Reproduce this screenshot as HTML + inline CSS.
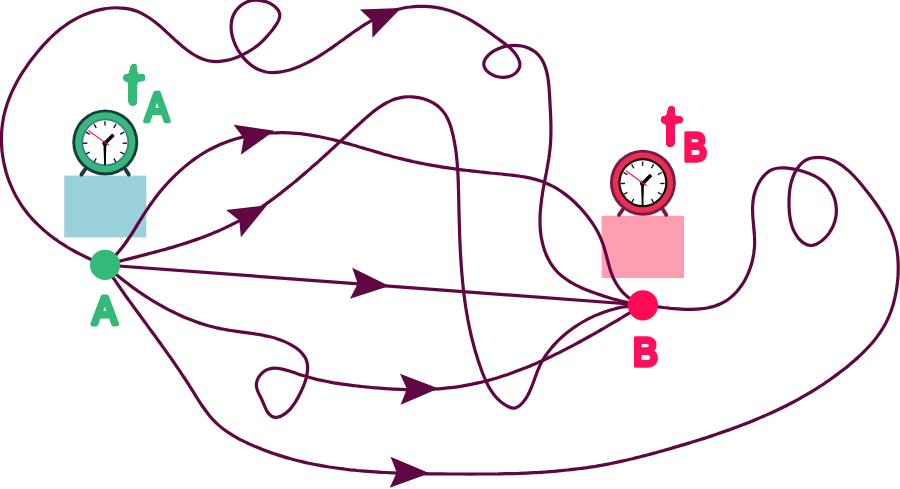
<!DOCTYPE html>
<html><head><meta charset="utf-8"><title>Paths from A to B</title>
<style>
html,body{margin:0;padding:0;background:#fff;}
body{width:900px;height:489px;overflow:hidden;}
svg{display:block;will-change:transform;}
text{font-family:"Liberation Sans",sans-serif;stroke-linejoin:round;stroke-linecap:round;vector-effect:non-scaling-stroke;}
</style></head><body>
<svg width="900" height="489" viewBox="0 0 900 489">
<defs><filter id="rnd" x="-20%" y="-20%" width="140%" height="140%" color-interpolation-filters="sRGB"><feGaussianBlur stdDeviation="1.35"/><feComponentTransfer><feFuncA type="linear" slope="9" intercept="-4"/></feComponentTransfer></filter><clipPath id="ct0"><path d="M120.2,60.9H149.0V86.3H137.87V101.35A5.15,5.15 0 0 1 127.58,101.35V86.3H120.2Z"/></clipPath><clipPath id="ct1"><path d="M657.8,101.9H686.4V127.1H675.40V142.15A5.15,5.15 0 0 1 665.10,142.15V127.1H657.8Z"/></clipPath></defs>
<rect width="900" height="489" fill="#fff"/>
<rect x="64.2" y="175.6" width="82.1" height="61.8" fill="#9ad1da"/>
<rect x="601.6" y="215.8" width="82.4" height="62.2" fill="#ff9db1"/>
<g fill="none" stroke="#5e0742" stroke-width="3.2" stroke-linecap="round" stroke-linejoin="round">
<path d="M105.0,265.0C102.9,264.2 100.7,263.4 98.6,262.5C96.5,261.7 94.3,260.8 92.2,259.9C90.1,259.0 87.9,258.0 85.8,257.0C83.7,256.0 81.6,255.0 79.5,253.9C77.4,252.8 75.3,251.7 73.2,250.5C71.2,249.4 69.1,248.2 67.1,247.0C65.1,245.8 63.1,244.5 61.1,243.2C59.1,241.9 57.2,240.5 55.2,239.2C53.3,237.8 51.4,236.4 49.6,234.9C47.7,233.4 45.9,232.0 44.1,230.4C42.3,228.9 40.6,227.3 38.9,225.7C37.2,224.1 35.5,222.4 33.9,220.7C32.3,219.0 30.8,217.2 29.2,215.5C27.7,213.7 26.3,211.9 24.9,210.0C23.5,208.1 22.1,206.2 20.9,204.3C19.6,202.3 18.4,200.3 17.2,198.3C16.0,196.3 14.9,194.2 13.9,192.1C12.9,190.0 11.9,187.9 11.0,185.7C10.1,183.6 9.2,181.4 8.4,179.2C7.6,177.0 6.9,174.8 6.2,172.5C5.6,170.3 5.0,168.0 4.5,165.7C3.9,163.4 3.5,161.1 3.1,158.8C2.7,156.5 2.4,154.2 2.1,151.9C1.9,149.5 1.7,147.2 1.6,144.9C1.5,142.5 1.4,140.2 1.4,137.9C1.5,135.5 1.6,133.2 1.7,130.9C1.9,128.5 2.2,126.2 2.5,123.9C2.8,121.6 3.2,119.3 3.6,117.0C4.1,114.7 4.7,112.4 5.3,110.2C5.9,107.9 6.6,105.7 7.3,103.5C8.1,101.3 8.9,99.1 9.8,96.9C10.7,94.7 11.6,92.5 12.6,90.4C13.6,88.3 14.7,86.1 15.8,84.0C16.9,81.9 18.0,79.9 19.2,77.8C20.4,75.8 21.7,73.7 23.0,71.7C24.3,69.7 25.6,67.8 27.0,65.8C28.3,63.9 29.7,61.9 31.1,60.1C32.6,58.2 34.0,56.3 35.5,54.5C37.0,52.6 38.5,50.8 40.0,49.0C41.5,47.3 43.0,45.5 44.6,43.8C46.2,42.1 47.8,40.5 49.4,38.8C51.0,37.2 52.7,35.6 54.4,34.1C56.1,32.5 57.8,31.1 59.6,29.6C61.4,28.2 63.2,26.8 65.1,25.5C67.0,24.1 68.9,22.8 70.9,21.6C72.9,20.4 75.0,19.3 77.1,18.2C79.2,17.1 81.3,16.1 83.5,15.1C85.7,14.2 88.0,13.3 90.2,12.5C92.5,11.7 94.8,11.0 97.1,10.4C99.4,9.8 101.8,9.3 104.1,8.9C106.5,8.5 108.8,8.2 111.1,8.0C113.5,7.8 115.8,7.7 118.1,7.8C120.5,7.8 122.8,8.0 125.0,8.3C127.3,8.6 129.5,9.0 131.7,9.6C133.9,10.2 136.1,10.9 138.2,11.8C140.3,12.6 142.3,13.6 144.3,14.8C146.3,15.9 148.3,17.2 150.2,18.5C152.2,19.8 154.1,21.3 155.9,22.8C157.8,24.3 159.6,25.8 161.5,27.4C163.3,29.1 165.1,30.7 166.9,32.4C168.7,34.0 170.5,35.7 172.3,37.3C174.1,39.0 175.9,40.7 177.7,42.3C179.5,43.9 181.3,45.4 183.1,46.9C184.9,48.5 186.8,49.9 188.7,51.2C190.5,52.6 192.4,53.8 194.4,55.0C196.3,56.1 198.2,57.1 200.2,58.0C202.3,58.9 204.3,59.6 206.4,60.2C208.5,60.8 210.6,61.2 212.9,61.4C215.1,61.6 217.3,61.6 219.6,61.4C221.9,61.2 224.3,60.9 226.6,60.4C229.0,59.9 231.3,59.2 233.7,58.4C236.0,57.6 238.3,56.7 240.6,55.7C242.8,54.7 245.1,53.5 247.2,52.3C249.4,51.1 251.4,49.8 253.4,48.5C255.4,47.1 257.3,45.7 259.0,44.2C260.8,42.7 262.4,41.2 264.0,39.6C265.6,38.0 267.2,36.3 268.6,34.6C270.1,32.8 271.6,31.0 273.0,29.1C274.4,27.1 275.9,25.1 277.2,23.0C278.5,20.9 279.5,18.7 279.7,16.6C280.0,14.6 279.5,12.6 278.5,10.7C277.4,8.9 275.8,7.2 273.8,5.7C271.9,4.3 269.6,3.0 267.1,2.1C264.6,1.2 262.0,0.6 259.5,0.3C256.9,0.0 254.5,0.1 252.1,0.5C249.8,0.9 247.6,1.6 245.5,2.6C243.5,3.6 241.6,4.9 239.9,6.3C238.3,7.8 236.8,9.4 235.6,11.2C234.3,13.0 233.4,15.0 232.6,17.1C231.9,19.1 231.5,21.3 231.3,23.5C231.0,25.8 231.1,28.1 231.3,30.4C231.5,32.7 232.0,35.0 232.6,37.4C233.3,39.7 234.1,42.0 235.1,44.3C236.1,46.6 237.3,48.8 238.6,51.0C239.9,53.1 241.3,55.2 242.9,57.1C244.5,59.0 246.2,60.8 248.0,62.5C249.8,64.1 251.7,65.6 253.6,66.9C255.6,68.2 257.6,69.3 259.7,70.1C261.8,70.9 264.0,71.5 266.1,72.0C268.3,72.4 270.6,72.6 272.8,72.6C275.0,72.6 277.3,72.5 279.6,72.2C281.9,71.9 284.2,71.4 286.4,70.8C288.7,70.3 291.0,69.6 293.3,68.8C295.5,68.0 297.7,67.1 299.9,66.2C302.2,65.2 304.3,64.2 306.4,63.1C308.6,62.1 310.6,61.0 312.7,59.8C314.7,58.7 316.8,57.5 318.8,56.3C320.8,55.1 322.7,53.8 324.7,52.5C326.6,51.2 328.5,49.9 330.5,48.6C332.4,47.3 334.3,45.9 336.2,44.6C338.1,43.2 340.0,41.9 341.9,40.5C343.8,39.1 345.7,37.8 347.6,36.4C349.5,35.0 351.4,33.7 353.3,32.3C355.3,30.9 357.2,29.6 359.2,28.3C361.1,27.0 363.1,25.7 365.1,24.4C367.1,23.2 369.1,22.0 371.1,20.8C373.2,19.6 375.2,18.5 377.3,17.4C379.4,16.4 381.5,15.3 383.6,14.4C385.8,13.5 387.9,12.6 390.1,11.8C392.3,11.0 394.5,10.3 396.8,9.6C399.0,9.0 401.3,8.5 403.6,8.0C405.9,7.6 408.2,7.2 410.6,7.0C412.9,6.7 415.3,6.5 417.6,6.4C420.0,6.3 422.3,6.3 424.7,6.4C427.1,6.5 429.4,6.6 431.8,6.9C434.1,7.2 436.4,7.5 438.7,7.9C441.1,8.4 443.3,8.9 445.6,9.5C447.9,10.1 450.1,10.8 452.3,11.5C454.5,12.3 456.6,13.2 458.7,14.1C460.8,15.0 462.9,16.0 465.0,17.1C467.1,18.1 469.1,19.2 471.1,20.4C473.1,21.6 475.1,22.8 477.1,24.1C479.1,25.3 481.1,26.6 483.0,27.9C485.0,29.3 486.9,30.6 488.8,32.0C490.8,33.4 492.7,34.8 494.6,36.2C496.6,37.6 498.5,39.0 500.4,40.4C502.3,41.8 504.3,43.2 506.1,44.7C508.0,46.1 509.8,47.6 511.5,49.3C513.1,50.9 514.7,52.7 516.0,54.6C517.3,56.5 518.6,58.7 519.3,60.9C520.0,63.1 520.1,65.3 519.5,67.3C518.9,69.3 517.7,71.1 516.1,72.6C514.4,74.1 512.4,75.4 510.1,76.2C507.8,77.0 505.2,77.4 502.7,77.4C500.1,77.4 497.5,76.9 495.0,76.0C492.6,75.1 490.3,73.8 488.4,72.3C486.6,70.8 485.1,69.0 484.4,67.1C483.6,65.3 483.6,63.3 484.2,61.4C484.8,59.5 486.1,57.7 487.7,55.9C489.3,54.2 491.4,52.6 493.5,51.2C495.7,49.9 497.9,48.7 500.2,47.9C502.6,47.0 504.9,46.3 507.4,45.9C509.8,45.5 512.2,45.3 514.6,45.3C517.0,45.3 519.4,45.6 521.7,46.0C524.0,46.5 526.2,47.2 528.3,48.0C530.4,48.9 532.3,49.9 534.1,51.2C535.9,52.4 537.5,53.9 538.9,55.5C540.3,57.1 541.5,58.8 542.6,60.8C543.6,62.7 544.5,64.7 545.2,66.9C546.0,69.0 546.6,71.3 547.1,73.6C547.6,76.0 548.0,78.4 548.3,80.8C548.6,83.3 548.9,85.8 549.1,88.3C549.3,90.8 549.4,93.3 549.6,95.8C549.7,98.3 549.9,100.8 550.0,103.2C550.1,105.7 550.2,108.1 550.4,110.5C550.5,112.8 550.6,115.2 550.7,117.5C550.8,119.8 550.8,122.1 550.9,124.4C550.9,126.7 551.0,129.0 550.9,131.3C550.9,133.5 550.9,135.8 550.8,138.1C550.7,140.3 550.6,142.6 550.4,144.8C550.2,147.1 550.0,149.4 549.7,151.6C549.4,153.9 549.1,156.2 548.8,158.5C548.4,160.8 548.0,163.1 547.6,165.4C547.2,167.7 546.8,170.0 546.4,172.3C545.9,174.6 545.5,177.0 545.0,179.3C544.6,181.6 544.2,183.9 543.7,186.3C543.3,188.6 542.9,191.0 542.5,193.3C542.2,195.7 541.8,198.0 541.5,200.4C541.2,202.7 540.9,205.1 540.7,207.4C540.4,209.8 540.3,212.1 540.1,214.5C540.0,216.9 540.0,219.2 540.0,221.6C540.0,224.0 540.1,226.3 540.3,228.7C540.4,231.1 540.7,233.4 541.0,235.8C541.4,238.1 541.8,240.4 542.4,242.7C542.9,245.0 543.5,247.3 544.3,249.5C545.0,251.7 545.8,253.9 546.8,256.0C547.7,258.1 548.8,260.1 549.9,262.1C551.1,264.0 552.4,265.9 553.8,267.7C555.2,269.5 556.7,271.2 558.3,272.8C560.0,274.4 561.7,275.9 563.5,277.3C565.4,278.7 567.3,280.0 569.3,281.3C571.3,282.6 573.4,283.7 575.5,284.9C577.6,286.0 579.8,287.0 582.0,288.0C584.2,289.0 586.5,289.9 588.7,290.8C591.0,291.7 593.3,292.6 595.6,293.3C597.9,294.1 600.2,294.9 602.4,295.6C604.7,296.3 607.0,297.0 609.2,297.7C611.4,298.4 613.6,299.0 615.7,299.6C617.9,300.2 620.0,300.8 622.2,301.4C624.4,301.9 626.5,302.4 628.8,302.9C631.0,303.4 633.3,303.8 635.6,304.1C638.0,304.5 640.4,304.8 643.0,305.0"/>
<path d="M105.0,265.0C106.9,263.5 108.8,261.9 110.5,260.3C112.2,258.7 113.9,257.1 115.5,255.4C117.1,253.7 118.6,251.9 120.1,250.1C121.6,248.3 123.0,246.5 124.3,244.7C125.7,242.8 127.0,240.9 128.3,239.0C129.6,237.1 130.9,235.2 132.1,233.3C133.4,231.3 134.6,229.3 135.8,227.4C137.0,225.4 138.2,223.4 139.4,221.4C140.7,219.5 141.9,217.5 143.1,215.5C144.4,213.5 145.7,211.5 147.0,209.6C148.3,207.6 149.6,205.6 151.0,203.7C152.4,201.8 153.8,199.9 155.2,198.0C156.6,196.1 158.1,194.2 159.6,192.3C161.2,190.5 162.7,188.6 164.3,186.8C165.9,185.0 167.5,183.2 169.1,181.5C170.8,179.7 172.4,178.0 174.1,176.3C175.9,174.6 177.6,173.0 179.4,171.4C181.1,169.7 182.9,168.2 184.8,166.6C186.6,165.1 188.5,163.6 190.3,162.2C192.2,160.7 194.2,159.3 196.1,157.9C198.0,156.6 200.0,155.3 202.0,154.0C204.0,152.8 206.0,151.6 208.1,150.4C210.1,149.3 212.2,148.2 214.3,147.2C216.4,146.2 218.5,145.2 220.7,144.3C222.8,143.4 225.0,142.5 227.2,141.7C229.4,140.9 231.6,140.2 233.8,139.5C236.1,138.8 238.3,138.1 240.6,137.6C242.8,137.0 245.1,136.5 247.4,136.0C249.7,135.5 252.0,135.1 254.3,134.7C256.6,134.4 258.9,134.0 261.2,133.8C263.6,133.5 265.9,133.3 268.2,133.1C270.6,133.0 272.9,132.8 275.3,132.8C277.6,132.7 280.0,132.7 282.3,132.7C284.7,132.7 287.0,132.8 289.4,132.9C291.7,133.0 294.1,133.2 296.4,133.4C298.8,133.6 301.1,133.8 303.4,134.1C305.8,134.4 308.1,134.7 310.4,135.1C312.8,135.5 315.1,135.9 317.4,136.3C319.7,136.8 322.0,137.2 324.3,137.7C326.6,138.2 328.9,138.8 331.2,139.3C333.5,139.9 335.8,140.4 338.1,141.0C340.4,141.6 342.7,142.2 345.0,142.9C347.3,143.5 349.6,144.1 351.8,144.8C354.1,145.4 356.4,146.1 358.7,146.8C361.0,147.4 363.2,148.1 365.5,148.8C367.8,149.5 370.1,150.1 372.4,150.8C374.6,151.5 376.9,152.2 379.2,152.8C381.5,153.5 383.8,154.1 386.0,154.8C388.3,155.4 390.6,156.0 392.9,156.7C395.2,157.3 397.5,157.9 399.7,158.4C402.0,159.0 404.3,159.6 406.6,160.1C408.9,160.6 411.2,161.2 413.5,161.7C415.8,162.2 418.1,162.6 420.4,163.1C422.7,163.5 425.0,164.0 427.3,164.4C429.6,164.8 431.9,165.3 434.2,165.6C436.5,166.0 438.8,166.4 441.1,166.8C443.5,167.2 445.8,167.5 448.1,167.8C450.4,168.2 452.7,168.5 455.1,168.8C457.4,169.2 459.7,169.5 462.1,169.8C464.4,170.1 466.7,170.3 469.1,170.6C471.4,170.9 473.8,171.2 476.1,171.4C478.5,171.7 480.8,172.0 483.2,172.2C485.5,172.5 487.9,172.7 490.2,173.0C492.6,173.2 495.0,173.4 497.3,173.7C499.7,173.9 502.1,174.1 504.4,174.4C506.8,174.6 509.2,174.9 511.6,175.1C513.9,175.4 516.3,175.7 518.6,176.0C521.0,176.3 523.3,176.7 525.6,177.1C527.9,177.6 530.2,178.0 532.5,178.6C534.8,179.1 537.0,179.8 539.2,180.5C541.5,181.2 543.6,182.0 545.8,182.9C547.9,183.8 550.0,184.8 552.1,185.9C554.2,186.9 556.2,188.1 558.2,189.4C560.2,190.6 562.1,192.0 564.0,193.4C565.9,194.8 567.8,196.2 569.6,197.8C571.4,199.3 573.2,200.9 574.9,202.5C576.6,204.2 578.3,205.9 580.0,207.6C581.6,209.3 583.2,211.1 584.7,212.9C586.2,214.7 587.7,216.6 589.1,218.5C590.5,220.4 591.9,222.3 593.2,224.3C594.4,226.2 595.7,228.2 596.8,230.3C597.9,232.3 599.0,234.4 600.0,236.6C600.9,238.7 601.8,240.9 602.6,243.1C603.5,245.3 604.2,247.6 604.8,249.9C605.5,252.2 606.1,254.5 606.7,256.8C607.3,259.1 607.8,261.4 608.5,263.7C609.1,266.0 609.7,268.3 610.5,270.6C611.2,272.8 612.0,275.0 612.9,277.1C613.9,279.3 614.9,281.3 616.1,283.3C617.3,285.3 618.5,287.2 620.0,289.0C621.4,290.9 622.9,292.6 624.6,294.2C626.2,295.8 628.0,297.3 629.9,298.6C631.9,300.0 633.9,301.2 636.1,302.3C638.3,303.3 640.6,304.3 643.0,305.0"/>
<path d="M105.0,265.0C107.2,264.4 109.4,263.8 111.6,263.3C113.8,262.7 116.0,262.1 118.2,261.6C120.5,261.0 122.7,260.4 124.9,259.8C127.2,259.3 129.5,258.7 131.7,258.1C134.0,257.5 136.3,257.0 138.5,256.4C140.8,255.8 143.1,255.2 145.4,254.6C147.7,254.0 150.0,253.4 152.3,252.8C154.6,252.2 156.8,251.6 159.1,251.0C161.4,250.4 163.7,249.7 166.0,249.1C168.3,248.4 170.6,247.8 172.9,247.1C175.2,246.4 177.5,245.7 179.7,245.0C182.0,244.3 184.3,243.6 186.6,242.9C188.8,242.2 191.1,241.4 193.3,240.6C195.6,239.9 197.8,239.1 200.0,238.3C202.3,237.4 204.5,236.6 206.7,235.8C208.9,234.9 211.1,234.0 213.2,233.1C215.4,232.2 217.6,231.3 219.7,230.4C221.9,229.4 224.0,228.4 226.1,227.4C228.2,226.4 230.3,225.4 232.3,224.3C234.4,223.3 236.5,222.2 238.5,221.1C240.5,219.9 242.5,218.8 244.5,217.6C246.5,216.5 248.5,215.3 250.5,214.1C252.5,212.9 254.4,211.6 256.4,210.4C258.3,209.1 260.2,207.9 262.2,206.6C264.1,205.3 266.0,204.0 267.9,202.6C269.8,201.3 271.6,199.9 273.5,198.6C275.4,197.2 277.2,195.8 279.1,194.4C280.9,193.0 282.8,191.6 284.6,190.1C286.4,188.7 288.2,187.3 290.0,185.8C291.9,184.3 293.7,182.8 295.4,181.4C297.2,179.9 299.0,178.4 300.8,176.8C302.6,175.3 304.4,173.8 306.1,172.3C307.9,170.7 309.7,169.2 311.4,167.6C313.2,166.1 314.9,164.5 316.7,163.0C318.5,161.4 320.2,159.8 322.0,158.2C323.7,156.6 325.4,155.0 327.2,153.5C328.9,151.9 330.7,150.3 332.4,148.7C334.2,147.1 335.9,145.5 337.6,143.8C339.4,142.2 341.1,140.6 342.9,139.0C344.6,137.4 346.3,135.8 348.1,134.2C349.8,132.6 351.6,131.0 353.3,129.4C355.1,127.7 356.9,126.1 358.6,124.5C360.4,122.9 362.1,121.3 363.9,119.7C365.7,118.2 367.5,116.6 369.3,115.1C371.1,113.5 372.9,112.0 374.7,110.6C376.6,109.2 378.4,107.8 380.3,106.6C382.3,105.3 384.2,104.1 386.2,103.0C388.2,101.9 390.2,101.0 392.2,100.1C394.3,99.3 396.4,98.6 398.6,98.1C400.8,97.5 403.0,97.1 405.3,96.9C407.7,96.7 410.0,96.7 412.5,96.8C414.9,97.0 417.4,97.3 419.8,97.9C422.3,98.4 424.7,99.1 427.0,100.0C429.3,100.9 431.6,101.9 433.6,103.1C435.7,104.4 437.6,105.8 439.3,107.3C441.0,108.9 442.5,110.6 443.9,112.4C445.2,114.2 446.4,116.2 447.4,118.2C448.4,120.3 449.3,122.4 450.1,124.6C450.9,126.8 451.5,129.1 452.1,131.4C452.7,133.7 453.3,136.0 453.7,138.3C454.2,140.6 454.6,142.9 455.0,145.3C455.4,147.6 455.8,149.9 456.1,152.3C456.4,154.6 456.6,156.9 456.8,159.3C457.1,161.6 457.3,164.0 457.4,166.3C457.6,168.7 457.8,171.0 457.9,173.4C458.0,175.7 458.1,178.0 458.2,180.4C458.3,182.7 458.4,185.1 458.4,187.4C458.5,189.8 458.6,192.1 458.6,194.5C458.7,196.8 458.7,199.2 458.8,201.5C458.8,203.9 458.9,206.2 458.9,208.6C459.0,210.9 459.0,213.2 459.1,215.6C459.2,217.9 459.2,220.3 459.3,222.6C459.4,224.9 459.4,227.3 459.5,229.6C459.6,231.9 459.7,234.3 459.7,236.6C459.8,238.9 459.9,241.3 460.0,243.6C460.1,245.9 460.2,248.2 460.3,250.6C460.5,252.9 460.6,255.2 460.7,257.6C460.9,259.9 461.0,262.2 461.2,264.5C461.3,266.8 461.5,269.2 461.7,271.5C461.9,273.8 462.1,276.1 462.3,278.4C462.5,280.8 462.7,283.1 463.0,285.4C463.2,287.7 463.5,290.0 463.7,292.3C464.0,294.6 464.3,296.9 464.6,299.3C464.9,301.6 465.3,303.9 465.6,306.2C466.0,308.5 466.3,310.8 466.7,313.1C467.1,315.4 467.5,317.7 467.9,320.0C468.4,322.3 468.8,324.6 469.3,326.9C469.8,329.2 470.3,331.5 470.8,333.8C471.3,336.1 471.9,338.4 472.5,340.7C473.1,343.0 473.7,345.3 474.3,347.6C474.9,349.9 475.6,352.2 476.3,354.5C477.0,356.7 477.7,359.0 478.4,361.3C479.2,363.6 479.9,365.9 480.8,368.2C481.6,370.5 482.4,372.7 483.3,375.0C484.2,377.2 485.2,379.4 486.2,381.6C487.2,383.7 488.3,385.9 489.4,387.9C490.6,389.9 491.9,391.8 493.2,393.7C494.6,395.5 496.0,397.3 497.6,398.9C499.2,400.5 500.9,402.0 502.7,403.3C504.5,404.6 506.5,405.9 508.6,406.8C510.7,407.8 512.9,408.5 514.9,408.1C516.9,407.7 518.8,406.5 520.5,404.9C522.2,403.4 523.7,401.6 525.0,399.7C526.4,397.8 527.5,395.8 528.6,393.7C529.7,391.6 530.6,389.4 531.5,387.2C532.4,385.0 533.2,382.7 534.1,380.4C534.9,378.1 535.7,375.8 536.6,373.5C537.4,371.2 538.3,369.0 539.3,366.8C540.3,364.6 541.4,362.5 542.6,360.5C543.8,358.4 545.0,356.4 546.4,354.5C547.7,352.6 549.1,350.7 550.6,348.9C552.1,347.1 553.6,345.4 555.2,343.7C556.8,342.0 558.5,340.3 560.2,338.7C561.9,337.1 563.6,335.6 565.4,334.1C567.2,332.6 569.0,331.1 570.9,329.7C572.8,328.3 574.7,327.0 576.7,325.7C578.6,324.4 580.6,323.2 582.6,322.0C584.7,320.8 586.7,319.7 588.8,318.6C590.9,317.6 593.0,316.6 595.2,315.6C597.3,314.7 599.5,313.8 601.7,313.0C603.9,312.1 606.1,311.4 608.3,310.7C610.6,310.0 612.8,309.3 615.1,308.7C617.4,308.2 619.7,307.6 622.0,307.2C624.3,306.8 626.6,306.4 628.9,306.1C631.3,305.7 633.6,305.5 636.0,305.3C638.3,305.1 640.6,305.0 643.0,305.0"/>
<path d="M105.0,265.0C106.7,266.5 108.5,268.1 110.3,269.6C112.0,271.1 113.8,272.6 115.6,274.1C117.4,275.6 119.3,277.0 121.1,278.5C122.9,280.0 124.8,281.4 126.7,282.8C128.5,284.3 130.4,285.7 132.3,287.1C134.2,288.4 136.2,289.8 138.1,291.2C140.0,292.5 142.0,293.8 143.9,295.1C145.9,296.4 147.9,297.7 149.9,299.0C151.9,300.2 153.9,301.5 155.9,302.7C158.0,303.9 160.0,305.1 162.1,306.2C164.1,307.4 166.2,308.5 168.3,309.6C170.4,310.7 172.5,311.7 174.6,312.7C176.7,313.8 178.9,314.8 181.0,315.7C183.2,316.7 185.3,317.6 187.5,318.5C189.7,319.4 191.9,320.2 194.1,321.0C196.3,321.9 198.5,322.6 200.7,323.4C203.0,324.1 205.2,324.8 207.5,325.5C209.7,326.1 212.0,326.7 214.3,327.3C216.6,327.8 218.9,328.4 221.2,328.8C223.5,329.3 225.8,329.8 228.1,330.1C230.5,330.5 232.8,330.9 235.2,331.2C237.5,331.5 239.9,331.8 242.2,332.1C244.6,332.4 246.9,332.7 249.3,333.1C251.6,333.4 254.0,333.7 256.3,334.1C258.6,334.4 261.0,334.8 263.3,335.3C265.6,335.7 267.9,336.2 270.1,336.8C272.4,337.3 274.6,337.9 276.9,338.7C279.1,339.4 281.3,340.2 283.4,341.1C285.6,342.0 287.7,343.0 289.8,344.1C291.9,345.2 294.0,346.5 295.9,347.8C297.8,349.2 299.6,350.7 301.2,352.3C302.8,354.0 304.1,355.7 305.2,357.6C306.2,359.5 306.9,361.6 307.3,363.7C307.7,365.9 307.7,368.2 307.5,370.5C307.3,372.9 306.9,375.3 306.3,377.7C305.7,380.1 304.9,382.6 303.9,385.0C303.0,387.4 301.9,389.7 300.8,392.0C299.7,394.3 298.6,396.5 297.4,398.6C296.2,400.7 295.1,402.6 293.8,404.4C292.6,406.2 291.3,407.9 289.7,409.6C288.2,411.2 286.4,412.7 284.4,414.1C282.3,415.5 280.0,416.8 277.7,417.2C275.5,417.7 273.3,417.2 271.5,416.1C269.6,414.9 268.1,413.1 266.9,411.1C265.8,409.1 264.9,406.8 263.9,404.4C262.9,402.0 261.9,399.6 260.7,397.3C259.5,395.0 258.3,392.7 257.5,390.5C256.7,388.2 256.2,386.0 256.4,383.7C256.6,381.5 257.4,379.3 258.6,377.2C259.8,375.2 261.5,373.4 263.3,372.0C265.1,370.5 267.0,369.6 269.0,369.0C271.1,368.4 273.2,368.1 275.4,368.2C277.6,368.2 279.9,368.6 282.3,369.1C284.6,369.6 287.0,370.2 289.4,371.0C291.7,371.8 294.2,372.6 296.6,373.4C298.9,374.3 301.3,375.1 303.7,375.8C306.0,376.5 308.4,377.2 310.7,377.8C313.0,378.4 315.3,379.0 317.6,379.6C319.9,380.1 322.2,380.6 324.5,381.0C326.7,381.5 329.0,381.9 331.3,382.3C333.5,382.7 335.8,383.1 338.0,383.4C340.3,383.8 342.6,384.1 344.8,384.4C347.1,384.7 349.4,385.0 351.7,385.3C353.9,385.6 356.2,385.8 358.5,386.1C360.9,386.4 363.2,386.6 365.5,386.9C367.8,387.1 370.1,387.3 372.5,387.6C374.8,387.8 377.2,388.0 379.5,388.2C381.9,388.4 384.2,388.5 386.6,388.7C388.9,388.8 391.3,389.0 393.7,389.1C396.0,389.2 398.4,389.3 400.8,389.4C403.1,389.5 405.5,389.6 407.9,389.6C410.3,389.7 412.6,389.7 415.0,389.7C417.4,389.7 419.8,389.6 422.1,389.6C424.5,389.5 426.9,389.5 429.2,389.4C431.6,389.3 434.0,389.1 436.3,389.0C438.7,388.8 441.0,388.7 443.4,388.4C445.7,388.2 448.1,388.0 450.4,387.7C452.8,387.5 455.1,387.2 457.4,386.8C459.7,386.5 462.1,386.1 464.4,385.7C466.7,385.3 469.0,384.9 471.3,384.4C473.6,384.0 475.8,383.5 478.1,382.9C480.4,382.4 482.7,381.9 484.9,381.3C487.2,380.7 489.4,380.1 491.7,379.5C493.9,378.8 496.2,378.2 498.4,377.5C500.6,376.8 502.9,376.1 505.1,375.3C507.3,374.6 509.5,373.8 511.7,373.1C513.9,372.3 516.1,371.5 518.3,370.6C520.5,369.8 522.7,368.9 524.9,368.1C527.0,367.2 529.2,366.3 531.4,365.4C533.5,364.5 535.7,363.6 537.8,362.6C540.0,361.7 542.1,360.7 544.3,359.7C546.4,358.7 548.5,357.7 550.7,356.7C552.8,355.7 554.9,354.7 557.0,353.6C559.2,352.6 561.3,351.5 563.4,350.4C565.5,349.4 567.6,348.3 569.7,347.2C571.8,346.1 573.8,345.0 575.9,343.9C578.0,342.7 580.1,341.6 582.2,340.5C584.2,339.3 586.3,338.2 588.4,337.0C590.4,335.9 592.5,334.7 594.5,333.6C596.6,332.4 598.6,331.2 600.7,330.0C602.7,328.9 604.8,327.7 606.8,326.5C608.8,325.3 610.9,324.1 612.9,322.9C614.9,321.7 616.9,320.5 619.0,319.3C621.0,318.1 623.0,316.9 625.0,315.7C627.0,314.5 629.0,313.3 631.0,312.1C633.0,311.0 635.0,309.8 637.0,308.6C639.0,307.4 641.0,306.2 643.0,305.0"/>
<path d="M105.0,265.0C106.2,267.0 107.5,268.9 108.7,270.9C110.0,272.9 111.3,274.8 112.6,276.8C113.9,278.7 115.2,280.7 116.5,282.6C117.8,284.5 119.2,286.5 120.5,288.4C121.8,290.3 123.2,292.2 124.5,294.2C125.9,296.1 127.3,298.0 128.6,299.9C130.0,301.8 131.4,303.7 132.8,305.6C134.1,307.5 135.5,309.4 136.9,311.3C138.3,313.2 139.7,315.1 141.1,317.0C142.5,318.9 143.9,320.8 145.3,322.7C146.6,324.6 148.0,326.5 149.4,328.4C150.8,330.2 152.2,332.1 153.6,334.0C154.9,335.9 156.3,337.8 157.7,339.7C159.1,341.6 160.4,343.4 161.8,345.3C163.1,347.2 164.5,349.1 165.8,351.0C167.2,352.9 168.5,354.8 169.9,356.7C171.2,358.6 172.6,360.5 173.9,362.4C175.2,364.4 176.5,366.3 177.8,368.2C179.2,370.2 180.5,372.1 181.8,374.1C183.1,376.0 184.4,378.0 185.7,379.9C186.9,381.9 188.2,383.9 189.5,385.9C190.8,387.9 192.0,389.9 193.3,391.9C194.5,393.9 195.8,396.0 197.1,398.0C198.3,400.0 199.6,402.0 200.9,404.0C202.2,405.9 203.6,407.9 205.0,409.8C206.4,411.7 207.8,413.6 209.3,415.4C210.7,417.2 212.3,418.9 213.9,420.6C215.5,422.3 217.2,423.9 218.9,425.4C220.6,426.9 222.5,428.4 224.3,429.8C226.2,431.2 228.1,432.5 230.1,433.7C232.1,435.0 234.1,436.2 236.2,437.3C238.2,438.5 240.3,439.6 242.4,440.6C244.6,441.7 246.7,442.7 248.8,443.7C251.0,444.7 253.1,445.6 255.3,446.6C257.5,447.5 259.7,448.4 261.8,449.2C264.0,450.1 266.2,450.9 268.4,451.7C270.6,452.5 272.8,453.3 275.0,454.0C277.2,454.8 279.4,455.5 281.7,456.1C283.9,456.8 286.1,457.5 288.4,458.1C290.6,458.8 292.8,459.4 295.1,460.0C297.3,460.5 299.6,461.1 301.9,461.6C304.1,462.2 306.4,462.7 308.7,463.2C310.9,463.7 313.2,464.1 315.5,464.6C317.8,465.0 320.1,465.4 322.4,465.8C324.7,466.2 327.0,466.6 329.3,467.0C331.6,467.3 333.9,467.7 336.2,468.0C338.5,468.3 340.8,468.6 343.2,468.9C345.5,469.2 347.8,469.5 350.1,469.8C352.5,470.0 354.8,470.2 357.1,470.5C359.5,470.7 361.8,470.9 364.1,471.1C366.5,471.3 368.8,471.5 371.2,471.6C373.5,471.8 375.8,472.0 378.2,472.1C380.5,472.3 382.9,472.4 385.2,472.5C387.6,472.6 390.0,472.7 392.3,472.8C394.7,473.0 397.0,473.0 399.4,473.1C401.7,473.2 404.1,473.3 406.5,473.3C408.8,473.4 411.2,473.5 413.5,473.5C415.9,473.6 418.3,473.6 420.6,473.7C423.0,473.7 425.3,473.7 427.7,473.8C430.1,473.8 432.4,473.8 434.8,473.9C437.1,473.9 439.5,473.9 441.9,473.9C444.2,473.9 446.6,473.9 448.9,474.0C451.3,474.0 453.6,474.0 456.0,474.0C458.3,474.0 460.7,474.0 463.0,474.0C465.4,474.0 467.7,474.0 470.1,474.1C472.4,474.1 474.8,474.1 477.1,474.0C479.4,474.0 481.8,474.0 484.1,474.0C486.5,474.0 488.8,474.0 491.1,474.0C493.5,473.9 495.8,473.9 498.2,473.9C500.5,473.8 502.8,473.8 505.2,473.7C507.5,473.7 509.8,473.6 512.1,473.6C514.5,473.5 516.8,473.4 519.1,473.4C521.5,473.3 523.8,473.2 526.1,473.1C528.4,473.0 530.8,472.9 533.1,472.7C535.4,472.6 537.7,472.5 540.0,472.3C542.4,472.2 544.7,472.0 547.0,471.9C549.3,471.7 551.6,471.5 554.0,471.3C556.3,471.1 558.6,470.9 560.9,470.7C563.2,470.5 565.5,470.3 567.8,470.0C570.2,469.8 572.5,469.5 574.8,469.2C577.1,468.9 579.4,468.6 581.7,468.3C584.0,468.0 586.3,467.7 588.6,467.3C590.9,467.0 593.2,466.6 595.5,466.3C597.8,465.9 600.1,465.5 602.4,465.1C604.7,464.6 607.0,464.2 609.3,463.8C611.7,463.3 614.0,462.8 616.2,462.4C618.5,461.9 620.8,461.4 623.1,460.9C625.4,460.3 627.7,459.8 630.0,459.3C632.3,458.7 634.6,458.2 636.9,457.6C639.2,457.0 641.5,456.5 643.8,455.9C646.1,455.3 648.3,454.7 650.6,454.1C652.9,453.5 655.2,452.8 657.5,452.2C659.7,451.6 662.0,451.0 664.3,450.3C666.6,449.7 668.8,449.0 671.1,448.4C673.4,447.7 675.7,447.0 677.9,446.4C680.2,445.7 682.5,445.0 684.7,444.4C687.0,443.7 689.2,443.0 691.5,442.3C693.7,441.6 696.0,440.9 698.2,440.2C700.5,439.5 702.7,438.8 705.0,438.1C707.2,437.4 709.4,436.6 711.7,435.9C713.9,435.1 716.1,434.4 718.4,433.6C720.6,432.9 722.8,432.1 725.0,431.3C727.2,430.6 729.4,429.8 731.6,429.0C733.8,428.2 736.0,427.4 738.2,426.5C740.4,425.7 742.6,424.9 744.8,424.0C746.9,423.2 749.1,422.3 751.3,421.4C753.4,420.6 755.6,419.7 757.7,418.8C759.9,417.9 762.0,416.9 764.2,416.0C766.3,415.1 768.4,414.1 770.5,413.2C772.7,412.2 774.8,411.2 776.9,410.2C779.0,409.2 781.1,408.2 783.1,407.2C785.2,406.2 787.3,405.1 789.4,404.0C791.4,403.0 793.5,401.9 795.5,400.8C797.6,399.7 799.6,398.6 801.6,397.4C803.7,396.3 805.7,395.1 807.7,393.9C809.7,392.8 811.7,391.6 813.7,390.3C815.7,389.1 817.6,387.9 819.6,386.6C821.6,385.3 823.5,384.1 825.4,382.7C827.4,381.4 829.3,380.1 831.2,378.7C833.1,377.4 835.0,376.0 836.9,374.6C838.8,373.2 840.7,371.8 842.6,370.3C844.4,368.9 846.3,367.4 848.1,365.9C849.9,364.4 851.8,362.9 853.6,361.3C855.4,359.7 857.1,358.2 858.9,356.5C860.6,354.9 862.4,353.3 864.0,351.6C865.7,349.9 867.4,348.2 868.9,346.5C870.5,344.8 872.1,343.0 873.6,341.2C875.1,339.4 876.5,337.5 877.9,335.6C879.3,333.8 880.6,331.8 881.8,329.9C883.1,327.9 884.2,325.9 885.3,323.9C886.4,321.8 887.4,319.8 888.4,317.6C889.3,315.5 890.2,313.4 891.0,311.2C891.8,309.0 892.5,306.8 893.2,304.5C893.8,302.3 894.4,300.0 894.9,297.7C895.5,295.4 895.9,293.1 896.3,290.8C896.7,288.4 897.0,286.1 897.3,283.7C897.6,281.3 897.8,279.0 898.0,276.6C898.1,274.2 898.2,271.8 898.2,269.4C898.3,267.0 898.2,264.6 898.1,262.3C898.0,259.9 897.8,257.5 897.6,255.2C897.3,252.9 897.0,250.5 896.6,248.3C896.1,246.0 895.6,243.7 895.0,241.5C894.5,239.3 893.8,237.2 893.0,235.0C892.3,232.9 891.4,230.8 890.5,228.7C889.6,226.6 888.7,224.6 887.6,222.6C886.6,220.5 885.5,218.5 884.3,216.5C883.2,214.5 882.0,212.6 880.7,210.6C879.4,208.6 878.1,206.7 876.8,204.7C875.4,202.8 874.0,200.8 872.6,198.9C871.2,197.0 869.7,195.0 868.2,193.1C866.7,191.1 865.2,189.2 863.6,187.2C862.1,185.3 860.5,183.4 858.9,181.5C857.2,179.6 855.6,177.8 853.9,176.0C852.2,174.2 850.5,172.5 848.7,170.9C846.9,169.3 845.1,167.8 843.3,166.4C841.4,165.1 839.5,163.8 837.5,162.7C835.6,161.6 833.6,160.6 831.5,159.8C829.5,159.0 827.4,158.4 825.2,158.0C823.0,157.5 820.8,157.3 818.5,157.3C816.3,157.3 813.9,157.5 811.6,158.0C809.2,158.5 807.0,159.4 805.0,160.6C803.0,161.8 801.2,163.4 799.7,165.2C798.2,167.0 796.9,169.0 795.7,171.1C794.6,173.1 793.6,175.2 792.8,177.4C792.0,179.6 791.4,181.8 790.8,184.1C790.3,186.3 789.9,188.6 789.6,191.0C789.4,193.4 789.2,195.7 789.1,198.1C789.0,200.6 789.0,203.0 789.0,205.4C789.1,207.8 789.2,210.3 789.4,212.7C789.6,215.1 790.0,217.5 790.4,219.9C790.9,222.2 791.5,224.5 792.2,226.7C793.0,229.0 793.9,231.1 795.0,233.1C796.2,235.2 797.5,237.1 799.0,238.9C800.6,240.7 802.4,242.3 804.3,243.4C806.2,244.6 808.2,245.4 810.3,245.5C812.4,245.6 814.6,245.0 816.7,244.0C818.9,243.0 821.0,241.6 822.9,239.9C824.8,238.2 826.6,236.4 828.1,234.4C829.6,232.5 830.9,230.4 832.0,228.3C833.1,226.2 834.0,224.0 834.7,221.8C835.4,219.5 835.8,217.3 836.1,215.0C836.3,212.7 836.4,210.4 836.3,208.1C836.1,205.9 835.8,203.6 835.3,201.4C834.8,199.2 834.1,197.1 833.2,195.0C832.3,192.9 831.2,190.9 829.9,189.0C828.7,187.1 827.2,185.4 825.6,183.7C824.0,182.1 822.2,180.6 820.2,179.3C818.3,177.9 816.2,176.7 814.0,175.6C811.8,174.6 809.5,173.6 807.2,172.8C804.8,171.9 802.4,171.2 800.0,170.5C797.5,169.9 795.1,169.3 792.7,168.9C790.3,168.4 787.9,168.1 785.5,167.9C783.2,167.8 780.9,167.8 778.7,168.0C776.5,168.3 774.4,168.8 772.4,169.6C770.4,170.4 768.6,171.5 766.8,173.0C765.1,174.4 763.5,176.1 762.1,177.9C760.6,179.8 759.3,181.9 758.2,184.1C757.1,186.3 756.1,188.6 755.3,190.9C754.5,193.2 753.9,195.6 753.5,197.9C753.1,200.2 752.8,202.6 752.7,204.9C752.5,207.2 752.5,209.5 752.6,211.8C752.7,214.2 752.8,216.5 753.0,218.8C753.2,221.1 753.4,223.4 753.6,225.7C753.8,228.1 754.1,230.4 754.2,232.7C754.4,235.1 754.6,237.4 754.6,239.8C754.7,242.1 754.6,244.5 754.5,246.8C754.3,249.2 754.0,251.6 753.7,254.0C753.3,256.3 752.8,258.7 752.3,261.0C751.7,263.4 751.0,265.7 750.2,268.0C749.4,270.2 748.6,272.5 747.6,274.6C746.6,276.8 745.5,278.9 744.4,281.0C743.2,283.0 741.9,285.0 740.6,286.8C739.2,288.7 737.8,290.5 736.3,292.2C734.7,293.9 733.1,295.4 731.4,296.9C729.7,298.4 727.9,299.7 726.0,300.9C724.1,302.1 722.1,303.1 720.1,304.0C718.0,305.0 715.9,305.7 713.7,306.4C711.5,307.0 709.3,307.6 707.0,308.0C704.7,308.4 702.3,308.7 700.0,308.9C697.6,309.2 695.2,309.3 692.7,309.3C690.3,309.4 687.8,309.4 685.4,309.3C682.9,309.2 680.4,309.1 677.9,308.9C675.5,308.7 673.0,308.5 670.5,308.3C668.1,308.0 665.7,307.7 663.3,307.5C660.9,307.2 658.5,306.9 656.2,306.6C653.9,306.3 651.6,306.0 649.4,305.7C647.2,305.5 645.1,305.2 643.0,305.0"/>
<path d="M105,265L643,305"/>
</g>
<g fill="#5e0742">
<path d="M401.2,8.1 L359.9,9.4 L372.2,20.9 L372.4,37.7Z"/>
<path d="M274.5,130.8 L233.6,124.7 L243.7,138.2 L240.9,154.8Z"/>
<path d="M267.1,205.2 L226.1,210.0 L239.3,220.4 L240.9,237.2Z"/>
<path d="M389.3,286.1 L352.2,267.8 L357.7,283.8 L350.0,298.8Z"/>
<path d="M438.6,388.5 L400.0,373.7 L406.9,389.1 L400.6,404.7Z"/>
<path d="M429.6,473.3 L390.5,456.8 L396.7,472.4 L389.7,487.8Z"/>
</g>
<g transform="translate(105.3,142.4)"><path d="M-20.2,27 L-23.9,32.2 M20.2,27 L23.4,32.2" stroke="#173b40" stroke-width="3.9" stroke-linecap="round" fill="none"/><circle r="33" fill="#173b40"/><circle r="30.1" fill="#35b878"/><circle r="23.9" fill="#3b7f95"/><circle r="22.1" fill="#fff"/><g transform="translate(-0.3,0.8)"><line x1="0.00" y1="-17.60" x2="0.00" y2="-22.00" stroke="#111" stroke-width="1.35"/><line x1="8.80" y1="-15.24" x2="11.00" y2="-19.05" stroke="#111" stroke-width="1.35"/><line x1="15.24" y1="-8.80" x2="19.05" y2="-11.00" stroke="#111" stroke-width="1.35"/><line x1="17.60" y1="-0.00" x2="22.00" y2="-0.00" stroke="#111" stroke-width="1.35"/><line x1="15.24" y1="8.80" x2="19.05" y2="11.00" stroke="#111" stroke-width="1.35"/><line x1="8.80" y1="15.24" x2="11.00" y2="19.05" stroke="#111" stroke-width="1.35"/><line x1="0.00" y1="17.60" x2="0.00" y2="22.00" stroke="#111" stroke-width="1.35"/><line x1="-8.80" y1="15.24" x2="-11.00" y2="19.05" stroke="#111" stroke-width="1.35"/><line x1="-15.24" y1="8.80" x2="-19.05" y2="11.00" stroke="#111" stroke-width="1.35"/><line x1="-17.60" y1="0.00" x2="-22.00" y2="0.00" stroke="#111" stroke-width="1.35"/><line x1="-15.24" y1="-8.80" x2="-19.05" y2="-11.00" stroke="#111" stroke-width="1.35"/><line x1="-8.80" y1="-15.24" x2="-11.00" y2="-19.05" stroke="#111" stroke-width="1.35"/><path d="M-1.6,0 L-0.8,21.8 L0.7,21.8 L1.4,0Z" fill="#000"/><line x1="0" y1="0" x2="7.2" y2="-7.2" stroke="#000" stroke-width="3.6" stroke-linecap="square"/><circle r="2.5" fill="#000"/><line x1="4.1" y1="2.2" x2="-16.7" y2="-12.7" stroke="#ff1744" stroke-width="1.15"/></g></g>
<g transform="translate(642.9,182.7)"><path d="M-20.2,27 L-23.9,32.2 M20.2,27 L23.4,32.2" stroke="#7a1a4a" stroke-width="3.9" stroke-linecap="round" fill="none"/><circle r="33" fill="#7a1a4a"/><circle r="30.1" fill="#ea3050"/><circle r="24.6" fill="#150a0e"/><circle r="22.4" fill="#fff"/><g transform="translate(-0.3,0.8)"><line x1="0.00" y1="-17.60" x2="0.00" y2="-22.00" stroke="#111" stroke-width="1.35"/><line x1="8.80" y1="-15.24" x2="11.00" y2="-19.05" stroke="#111" stroke-width="1.35"/><line x1="15.24" y1="-8.80" x2="19.05" y2="-11.00" stroke="#111" stroke-width="1.35"/><line x1="17.60" y1="-0.00" x2="22.00" y2="-0.00" stroke="#111" stroke-width="1.35"/><line x1="15.24" y1="8.80" x2="19.05" y2="11.00" stroke="#111" stroke-width="1.35"/><line x1="8.80" y1="15.24" x2="11.00" y2="19.05" stroke="#111" stroke-width="1.35"/><line x1="0.00" y1="17.60" x2="0.00" y2="22.00" stroke="#111" stroke-width="1.35"/><line x1="-8.80" y1="15.24" x2="-11.00" y2="19.05" stroke="#111" stroke-width="1.35"/><line x1="-15.24" y1="8.80" x2="-19.05" y2="11.00" stroke="#111" stroke-width="1.35"/><line x1="-17.60" y1="0.00" x2="-22.00" y2="0.00" stroke="#111" stroke-width="1.35"/><line x1="-15.24" y1="-8.80" x2="-19.05" y2="-11.00" stroke="#111" stroke-width="1.35"/><line x1="-8.80" y1="-15.24" x2="-11.00" y2="-19.05" stroke="#111" stroke-width="1.35"/><path d="M-1.6,0 L-0.8,21.8 L0.7,21.8 L1.4,0Z" fill="#000"/><line x1="0" y1="0" x2="7.2" y2="-7.2" stroke="#000" stroke-width="3.6" stroke-linecap="square"/><circle r="2.5" fill="#000"/><line x1="4.1" y1="2.2" x2="-16.7" y2="-12.7" stroke="#ff1744" stroke-width="1.15"/></g></g>
<circle cx="105" cy="264.9" r="15.1" fill="#35b978"/>
<circle cx="642.9" cy="305.3" r="15.1" fill="#ff0a54"/>
<g fill="#35b978" stroke="#35b978">
<g transform="translate(92.53,324.10) scale(0.928,1)"><text font-size="39.53" font-weight="normal" stroke-width="4.6">A</text></g>
<g filter="url(#rnd)"><g clip-path="url(#ct0)"><g transform="translate(122.98,121.10) scale(0.938,1)"><text font-size="87.00" font-weight="normal" stroke-width="2.0">t</text></g></g></g>
<g transform="translate(145.03,121.30) scale(0.868,1)"><text font-size="41.42" font-weight="normal" stroke-width="4.2">A</text></g>
</g>
<g fill="#ff0f5a" stroke="#ff0f5a">
<g transform="translate(633.07,366.00) scale(0.837,1)"><text font-size="41.57" font-weight="bold" stroke-width="3">B</text></g>
<g filter="url(#rnd)"><g clip-path="url(#ct1)"><g transform="translate(660.64,161.51) scale(0.935,1)"><text font-size="86.00" font-weight="normal" stroke-width="2.1">t</text></g></g></g>
<g transform="translate(683.41,160.50) scale(0.818,1)"><text font-size="39.97" font-weight="bold" stroke-width="3">B</text></g>
</g>
</svg>
</body></html>
